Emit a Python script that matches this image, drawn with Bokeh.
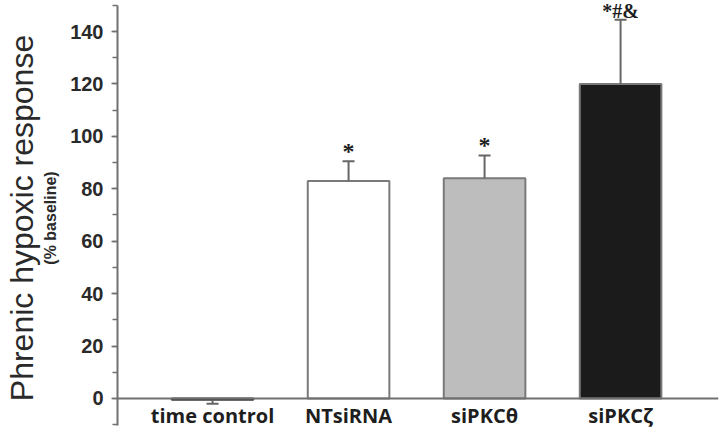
from bokeh.plotting import figure
from bokeh.models import (ColumnDataSource, Range1d, LinearAxis, FixedTicker,
                          LabelSet, SingleIntervalTicker)
from bokeh.embed import file_html
from bokeh.resources import INLINE

# ---- data ----
categories = ["time control", "NTsiRNA", "siPKCθ", "siPKCζ"]
means = [-0.5, 83.0, 84.0, 120.0]
errors = [-1.5, 7.5, 8.7, 24.5]          # sign = direction of the error bar
sig_marks = ["", "*", "*", "*#&"]

# ---- styles ----
fills = ["#ffffff", "#ffffff", "#bdbdbd", "#1b1b1b"]
outlines = ["#3a3a3a", "#7a7a7a", "#7a7a7a", "#7a7a7a"]
sig_sizes = ["20px", "24px", "24px", "20px"]
TXT = "#1e1e1e"
AX = "#707070"

xs = list(range(len(categories)))
err_end = [m + e for m, e in zip(means, errors)]

src = ColumnDataSource(dict(x=xs, top=means, end=err_end, sig=sig_marks,
                            fill=fills, line=outlines, fs=sig_sizes))

p = figure(width=720, height=435,
           x_range=Range1d(-0.699, 3.72), y_range=Range1d(-14.12, 151.83),
           output_backend="svg", toolbar_location=None,
           min_border_left=117, min_border_right=2, min_border_top=0,
           min_border_bottom=0)
p.outline_line_color = None
p.grid.visible = False
p.background_fill_color = "white"

# bars
p.vbar(x="x", top="top", bottom=0, width=0.6, fill_color="fill",
       line_color="line", line_width=2, source=src)
# error bars
p.segment(x0="x", y0="top", x1="x", y1="end", line_color="#666666",
          line_width=2, source=src)
p.scatter(x="x", y="end", marker="dash", size=12, line_color="#666666",
          line_width=2, source=src)

# significance marks
labels = LabelSet(x="x", y="end", text="sig", source=src, text_align="center",
                  text_baseline="alphabetic", y_offset=2,
                  text_font="DejaVu Sans", text_font_style="bold",
                  text_font_size="fs", text_color=TXT)
p.add_layout(labels)

# x axis at y = 0
xa = p.xaxis[0]
xa.fixed_location = 0
xa.ticker = FixedTicker(ticks=xs)
xa.major_label_overrides = {i: c for i, c in zip(xs, categories)}
xa.major_tick_line_color = None
xa.minor_tick_line_color = None
xa.axis_line_color = AX
xa.axis_line_width = 2
xa.major_label_standoff = -2
xa.major_label_text_font = "Open Sans"
xa.major_label_text_font_style = "bold"
xa.major_label_text_font_size = "20px"
xa.major_label_text_color = TXT

# y axis
ya = p.yaxis[0]
ya.bounds = (-10.3, 150)
ya.ticker = SingleIntervalTicker(interval=20, num_minor_ticks=2)
ya.axis_line_color = AX
ya.axis_line_width = 2
ya.major_tick_line_color = AX
ya.major_tick_line_width = 1.5
ya.major_tick_in = 0
ya.major_tick_out = 6
ya.minor_tick_line_color = AX
ya.minor_tick_line_width = 1.5
ya.minor_tick_in = 0
ya.minor_tick_out = 5
ya.major_label_standoff = 8
ya.major_label_text_font = "Liberation Sans"
ya.major_label_text_font_style = "bold"
ya.major_label_text_font_size = "20px"
ya.major_label_text_color = "#2a2a2a"
ya.axis_label = "(% baseline)"
ya.axis_label_standoff = 8
ya.axis_label_text_font = "Liberation Sans"
ya.axis_label_text_font_style = "bold"
ya.axis_label_text_font_size = "16px"
ya.axis_label_text_color = "#2a2a2a"

outer = LinearAxis(axis_label="Phrenic hypoxic response",
                   axis_line_color=None, major_tick_line_color=None,
                   minor_tick_line_color=None, major_label_text_font_size="0px",
                   major_label_standoff=0, axis_label_standoff=0,
                   axis_label_text_font="Liberation Sans",
                   axis_label_text_font_style="normal",
                   axis_label_text_font_size="32px",
                   axis_label_text_color="#2a2a2a")
outer.ticker = FixedTicker(ticks=[])
p.add_layout(outer, "left")

open("out.html", "w").write(file_html(p, INLINE))
